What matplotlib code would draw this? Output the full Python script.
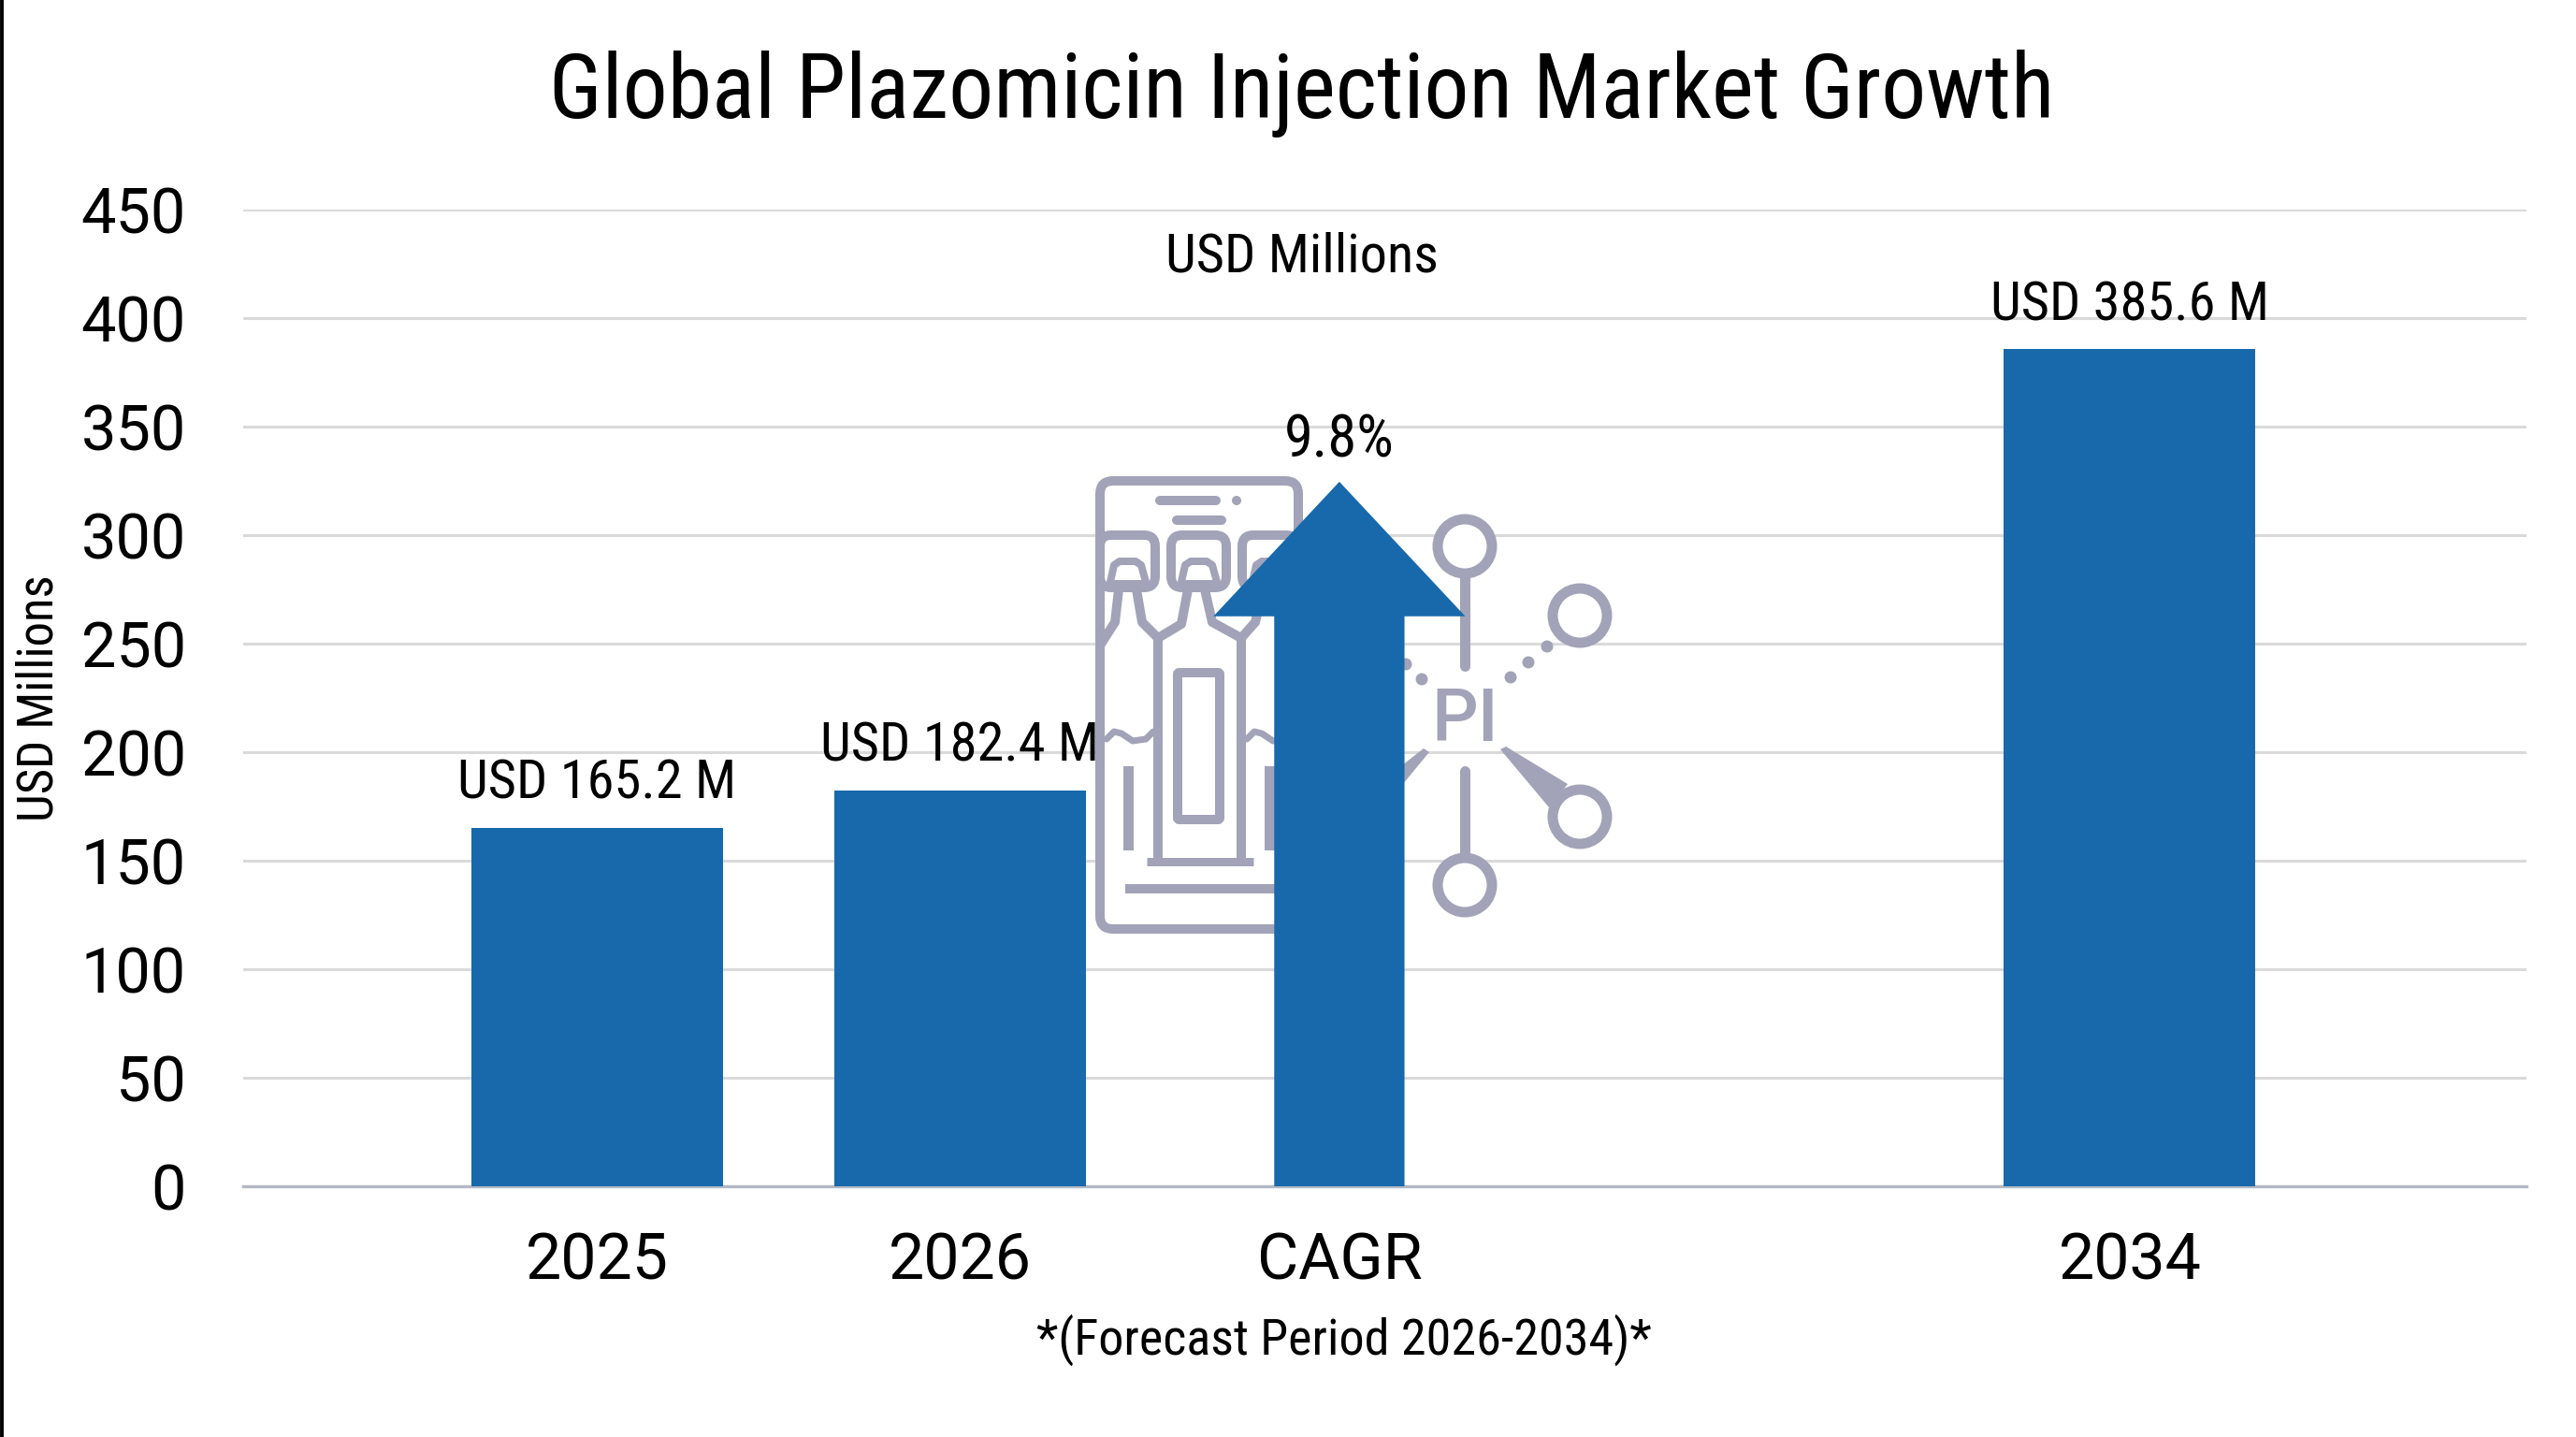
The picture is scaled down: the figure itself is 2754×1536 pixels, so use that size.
import matplotlib
matplotlib.use('Agg')
import matplotlib.pyplot as plt
from matplotlib.patches import Circle, FancyBboxPatch, Polygon, Rectangle
from matplotlib.lines import Line2D
from matplotlib.transforms import Affine2D

# dane
categories = ['2025', '2026', 'CAGR', '2034']
bar_years = ['2025', '2026', '2034']
bar_values = [165.2, 182.4, 385.6]
cagr_text = '9.8%'
y_ticks = [0, 50, 100, 150, 200, 250, 300, 350, 400, 450]

# rozmieszczenie kategorii na osi x
x_pos = {'2025': 0, '2026': 1, 'CAGR': 2.045, '2034': 4.223}
BLUE = '#1769AC'
ICON = '#A2A3B8'

W, H = 2754, 1536
narrow = ['Roboto Condensed', 'Roboto', 'DejaVu Sans']
regular = ['Roboto', 'DejaVu Sans']

fig = plt.figure(figsize=(W/100, H/100), dpi=100, facecolor='white')
ax = fig.add_axes([260/W, 1-1268/H, (2701-260)/W, (1268-224)/H])
ax.set_xlim(-0.9755, 5.316)
ax.set_ylim(0, 450)

# siatka i osie
ax.set_yticks(y_ticks)
ax.set_xticks([x_pos[c] for c in categories], categories)
ax.grid(axis='y', color='#DADADA', lw=2.2)
ax.set_axisbelow(True)
for s in ['top', 'right', 'left']:
    ax.spines[s].set_visible(False)
ax.spines['bottom'].set_color('#B4B8C4')
ax.spines['bottom'].set_linewidth(2.4)
ax.tick_params(axis='y', length=0, pad=44, labelsize=48)
ax.tick_params(axis='x', length=0, pad=34, labelsize=49)
for t in ax.get_xticklabels() + ax.get_yticklabels():
    t.set_family(regular)

# slupki
for year, v in zip(bar_years, bar_values):
    ax.bar(x_pos[year], v, width=0.693, color=BLUE, zorder=3)
    ax.annotate(f'USD {v} M', (x_pos[year], v), xytext=(0, 33.5), textcoords='offset points',
                ha='center', va='center', fontsize=42, family=narrow, color='black', zorder=5)

# strzalka CAGR
ax.arrow(x_pos['CAGR'], 0, 0, 324.6, width=0.359, head_width=0.694, head_length=62,
         length_includes_head=True, color=BLUE, lw=0, zorder=3)
ax.annotate(cagr_text, (x_pos['CAGR'], 324.6), xytext=(0, 31.5), textcoords='offset points',
            ha='center', va='center', fontsize=45, family=narrow, color='black', zorder=5)

# ikona rysowana w pikselach figury, pod slupkami
tf = Affine2D().scale(1/W, -1/H).translate(0, 1) + fig.transFigure


def line(pts, lw=10, cap='round'):
    xs, ys = zip(*pts)
    ax.add_line(Line2D(xs, ys, transform=tf, color=ICON, lw=lw*0.72, solid_capstyle=cap,
                       solid_joinstyle='round', zorder=1.5, clip_on=False))


def rbox(x0, y0, x1, y1, r, lw=10):
    ax.add_patch(FancyBboxPatch((x0+r, y0+r), x1-x0-2*r, y1-y0-2*r, boxstyle=f'round,pad={r},rounding_size={r}',
                                transform=tf, fc='white', ec=ICON, lw=lw*0.72, zorder=1.5, clip_on=False))


def ring(x, y, r=29):
    ax.add_patch(Circle((x, y), r, transform=tf, fc='white', ec=ICON, lw=11*0.72, zorder=1.6, clip_on=False))


def dot(x, y, r=6.5):
    ax.add_patch(Circle((x, y), r, transform=tf, fc=ICON, ec='none', zorder=1.6, clip_on=False))


rbox(1176, 514, 1388, 993, 14)
line([(1240, 535), (1300, 535)], 10)
dot(1322, 535, 5)
line([(1258, 556), (1306, 556)], 10)
for x0 in [1176, 1252, 1328]:
    rbox(x0, 572, x0+59, 628, 12)
    line([(x0+11, 622), (x0+15, 604), (x0+21, 600), (x0+38, 600), (x0+44, 604), (x0+49, 622)], 8)
    line([(x0+13, 624), (x0+47, 624)], 8)
# szyjki ampulek
line([(1196, 630), (1192, 665), (1176, 690)])
line([(1215, 630), (1221, 665), (1238, 682), (1238, 920)])
line([(1238, 682), (1263, 667), (1270, 630)])
line([(1288, 630), (1296, 665), (1327, 682), (1327, 920)])
line([(1327, 682), (1342, 665), (1348, 640)])
# stopka i plyn
line([(1226, 921), (1340, 921)], 9, 'butt')
for x0 in [1183, 1333]:
    line([(x0, 790), (x0+8, 782), (x0+16, 784), (x0+28, 792), (x0+42, 790), (x0+50, 782)], 7)
rbox(1259, 719, 1304, 876, 2)
ax.add_patch(Rectangle((1201, 819), 11, 90, transform=tf, fc=ICON, ec='none', zorder=1.6))
ax.add_patch(Rectangle((1352, 819), 14, 90, transform=tf, fc=ICON, ec='none', zorder=1.6))
ax.add_patch(Rectangle((1203, 945), 170, 10, transform=tf, fc=ICON, ec='none', zorder=1.6))

# znak PI z wezlami
line([(1566, 618), (1566, 712)], 11)
line([(1566, 824), (1566, 914)], 11)
ring(1566, 584)
ring(1566, 946)
ring(1689, 658)
ring(1689, 873)
for x, y in [(1654, 691), (1634, 708), (1615, 724), (1520, 726), (1503, 710)]:
    dot(x, y)
ax.add_patch(Polygon([(1604, 801), (1610, 798), (1676, 838), (1656, 863)], transform=tf, fc=ICON, ec='none', zorder=1.5))
ax.add_patch(Polygon([(1528, 804), (1522, 800), (1490, 825), (1490, 850)], transform=tf, fc=ICON, ec='none', zorder=1.5))
fig.text(1566/W, 1-770/H, 'PI', ha='center', va='center', fontsize=56, family=regular,
         fontweight='medium', color=ICON, zorder=1)

# teksty
fig.text(1392/W, 1-100/H, 'Global Plazomicin Injection Market Growth', ha='center', va='center',
         fontsize=69, family=narrow, color='black')
fig.text(1392/W, 1-275/H, 'USD Millions', ha='center', va='center', fontsize=42, family=narrow)
fig.text(42/W, 1-746/H, 'USD Millions', ha='center', va='center', rotation=90, fontsize=38, family=narrow)
fig.text(1437/W, 1-1432/H, '*(Forecast Period 2026-2034)*', ha='center', va='center', fontsize=39, family=narrow)

# czarna kreska przy lewej krawedzi
fig.add_artist(Line2D([0.0007, 0.0007], [0, 1], transform=fig.transFigure, color='black', lw=2.8))

fig.savefig('out.png', dpi=100, facecolor='white')
